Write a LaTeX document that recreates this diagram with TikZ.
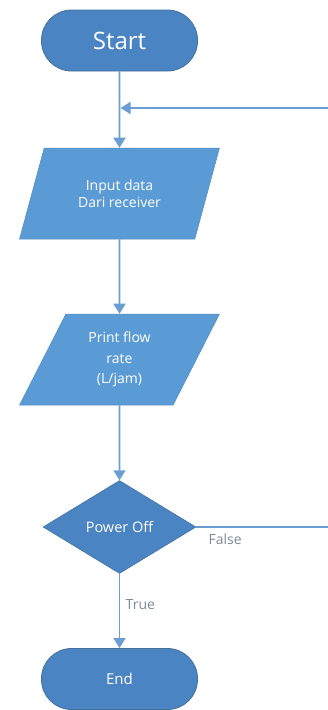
\documentclass[tikz,border=0pt]{standalone}
\usepackage{fontspec}
\setmainfont{Open Sans}
\usetikzlibrary{shapes.geometric,arrows.meta}
\definecolor{termblue}{HTML}{4A84C2}
\definecolor{ioblue}{HTML}{5B9BD5}
\definecolor{edgeblue}{HTML}{41719C}
\definecolor{lineblue}{HTML}{6A9ED3}
\definecolor{lblgray}{HTML}{7D8B99}

\begin{document}
\begin{tikzpicture}[x=1pt,y=1pt,
	terminal/.style={rectangle,rounded corners=30pt,fill=termblue,draw=edgeblue,line width=0.8pt,
		minimum width=156pt,minimum height=61pt,text=white,inner sep=0pt},
	io/.style={trapezium,trapezium left angle=64,trapezium right angle=116,trapezium stretches=true,
		fill=ioblue,draw=ioblue!90!black,line width=0.5pt,minimum width=200pt,minimum height=91pt,
		text=white,align=center,inner sep=0pt},
	decision/.style={diamond,fill=termblue,draw=edgeblue,line width=0.5pt,minimum width=153pt,
		minimum height=93pt,aspect=1.6,inner sep=0pt,text=white,font=\fontsize{14.5}{17}\selectfont},
	flow/.style={draw=lineblue,line width=1.8pt,-{Triangle[width=12pt,length=10pt]}},
	plain/.style={draw=lineblue,line width=1.8pt},
	branch/.style={text=lblgray,font=\fontsize{14}{16}\selectfont}]
\useasboundingbox (0,0) rectangle (328,-710);
\node[terminal,font=\fontsize{24}{28}\selectfont] (start) at (119.5,-40.5) {Start};
\node[io,font=\fontsize{14}{17}\selectfont] (input) at (119.5,-193.5) {Input data\\Dari receiver};
\node[io,font=\fontsize{14}{20.5}\selectfont] (print) at (119.5,-359.5) {Print flow\\rate\\(L/jam)};
\node[decision] (power) at (119.5,-527) {Power Off};
\node[terminal,font=\fontsize{15}{18}\selectfont] (end) at (119.5,-679) {End};
\coordinate (junc) at (120.5,-108);
\coordinate (back) at (328,-108);
\coordinate (out) at (328,-527);
\draw[flow] (start.south) -- (input.north);
\draw[flow] (back) -- (junc);
\draw[flow] (input.south) -- (print.north);
\draw[flow] (print.south) -- (power.north);
\draw[flow] (power.south) -- node[branch,right=2pt,pos=0.42] {True} (end.north);
\draw[plain] (power.east) -- node[branch,below=3pt,pos=0.22] {False} (out);
\end{tikzpicture}
\end{document}
